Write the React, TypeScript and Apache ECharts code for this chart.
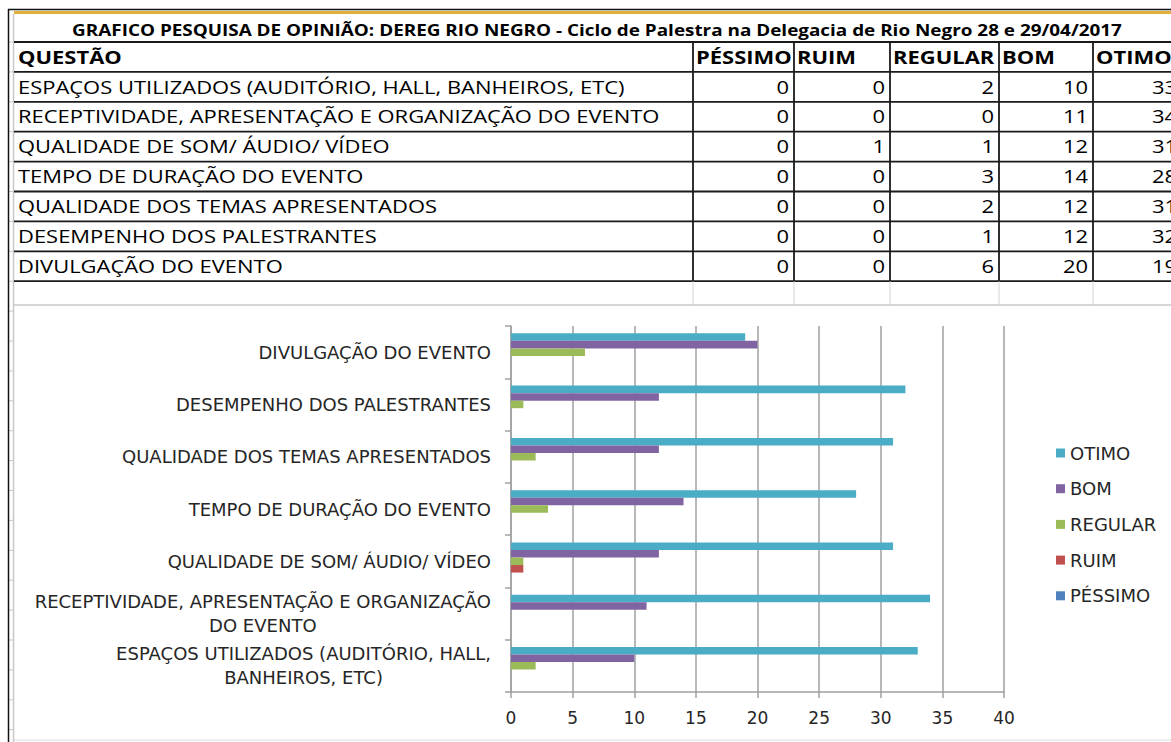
import React, { useEffect, useRef } from "react";
import * as echarts from "echarts";

// ---------- data ----------
const title =
  "GRAFICO PESQUISA DE OPINIÃO: DEREG RIO NEGRO - Ciclo de Palestra na Delegacia de Rio Negro 28 e 29/04/2017";
const questionHeader = "QUESTÃO";
const questions = [
  "ESPAÇOS UTILIZADOS (AUDITÓRIO, HALL, BANHEIROS, ETC)",
  "RECEPTIVIDADE, APRESENTAÇÃO E ORGANIZAÇÃO DO EVENTO",
  "QUALIDADE DE SOM/ ÁUDIO/ VÍDEO",
  "TEMPO DE DURAÇÃO DO EVENTO",
  "QUALIDADE DOS TEMAS APRESENTADOS",
  "DESEMPENHO DOS PALESTRANTES",
  "DIVULGAÇÃO DO EVENTO",
];
const ratingNames = ["PÉSSIMO", "RUIM", "REGULAR", "BOM", "OTIMO"];
const pessimo = [0, 0, 0, 0, 0, 0, 0];
const ruim = [0, 0, 1, 0, 0, 0, 0];
const regular = [2, 0, 1, 3, 2, 1, 6];
const bom = [10, 11, 12, 14, 12, 12, 20];
const otimo = [33, 34, 31, 28, 31, 32, 19];
const legendOrder = ["OTIMO", "BOM", "REGULAR", "RUIM", "PÉSSIMO"];
const xMin = 0;
const xMax = 40;
const xStep = 5;

// ---------- style / layout ----------
const seriesValues = [pessimo, ruim, regular, bom, otimo];
const seriesColors = ["#4F81BD", "#C0504D", "#9BBB59", "#8064A2", "#4BACC6"];
const FONT = "'Open Sans', 'Noto Sans', sans-serif";
const CFONT = "'DejaVu Sans', sans-serif";
const CSIZE = 18;
const TSCALE = 1.22;
const W = 1171;
const H = 742;
const rowTop = 42;
const rowH = 29.9;
const colLines = [693, 794, 890, 999, 1093, 1182];

function wrapLabel(s: string, maxChars: number): string[] {
  const words = s.split(" ");
  const lines: string[] = [];
  let cur = "";
  for (const w of words) {
    const next = cur ? cur + " " + w : w;
    if (next.length > maxChars && cur) {
      lines.push(cur);
      cur = w;
    } else cur = next;
  }
  if (cur) lines.push(cur);
  return lines;
}

function buildGraphic(): any[] {
  const els: any[] = [];
  const line = (x1: number, y1: number, x2: number, y2: number, stroke: string, lw: number) =>
    els.push({
      type: "line",
      silent: true,
      shape: { x1, y1, x2, y2 },
      style: { stroke, lineWidth: lw },
    });
  const text = (
    x: number,
    y: number,
    t: string,
    align: string,
    size: number,
    bold = false
  ) =>
    els.push({
      type: "text",
      silent: true,
      x,
      y,
      scaleX: TSCALE,
      style: {
        text: t,
        fill: "#000",
        font: `${bold ? "bold " : ""}${size}px ${FONT}`,
        textAlign: align,
        textVerticalAlign: "middle",
      },
    });

  // excel gutter marks
  for (let y = rowTop; y < H; y += rowH) line(8, y, 14, y, "#c8c8c8", 1);
  // top frame
  line(8, 9.5, W, 9.5, "#111", 1.5);
  line(14, 12.5, W, 12.5, "#E0B03A", 3);
  line(8.5, 9, 8.5, H, "#111", 1.5);
  line(13.5, 14, 13.5, H, "#c8c8c8", 1.5);

  // title
  text(597, 30, title, "center", 15.5, true);

  // rows
  const nRows = questions.length + 1;
  for (let i = 0; i <= nRows; i++) {
    const y = rowTop + i * rowH;
    line(14, y, W, y, "#1a1a1a", 1.8);
  }
  const tableBottom = rowTop + nRows * rowH;
  for (const x of colLines) line(x, rowTop, x, tableBottom, "#1a1a1a", 1.8);
  // empty row below table
  for (const x of colLines) line(x, tableBottom, x, 305, "#d4d4d4", 1);
  // chart border
  line(14, 305, W, 305, "#c8c8c8", 1.5);
  line(14, 740, W, 740, "#dcdcdc", 1);

  // header texts
  const hy = rowTop + rowH / 2;
  text(18, hy, questionHeader, "left", 18, true);
  ratingNames.forEach((n, j) => text(colLines[j] + 3, hy, n, "left", 18, true));

  // data rows
  questions.forEach((q, i) => {
    const y = rowTop + (i + 1) * rowH + rowH / 2;
    text(18, y, q, "left", 18);
    seriesValues.forEach((vals, j) =>
      text(colLines[j + 1] - 5, y, String(vals[i]), "right", 18)
    );
  });
  return els;
}

export default function App() {
  const ref = useRef<HTMLDivElement>(null);
  useEffect(() => {
    if (!ref.current) return;
    const chart = echarts.init(ref.current, null, { renderer: "svg" });
    // series drawn top-to-bottom inside each band: OTIMO first
    const order = [4, 3, 2, 1, 0];
    const option: any = {
      animation: false,
      backgroundColor: "#ffffff",
      textStyle: { fontFamily: CFONT },
      grid: { left: 511, right: W - 1004, top: 326, bottom: H - 692, containLabel: false },
      legend: {
        orient: "vertical",
        left: 1051,
        top: 439,
        data: legendOrder,
        icon: "rect",
        itemWidth: 9,
        itemHeight: 9,
        itemGap: 17.7,
        textStyle: { fontSize: CSIZE, color: "#262626", fontFamily: CFONT },
      },
      xAxis: {
        type: "value",
        min: xMin,
        max: xMax,
        interval: xStep,
        axisLine: { show: true, lineStyle: { color: "#a0a0a0", width: 1.5 } },
        axisTick: { show: true, length: 6, lineStyle: { color: "#a0a0a0", width: 1.5 } },
        splitLine: { show: true, lineStyle: { color: "#a0a0a0", width: 1.5 } },
        axisLabel: { margin: 17, fontSize: 17, color: "#262626", fontFamily: CFONT },
      },
      yAxis: {
        type: "category",
        data: questions,
        axisLine: { show: true, lineStyle: { color: "#a0a0a0", width: 1.5 } },
        axisTick: { show: true, length: 6, lineStyle: { color: "#a0a0a0", width: 1.5 } },
        splitLine: { show: false },
        axisLabel: {
          margin: 20,
          fontSize: CSIZE,
          color: "#262626",
          fontFamily: CFONT,
          align: "right",
          formatter: (v: string) =>
            wrapLabel(v, 41)
              .map((l) => `{c|${l}}`)
              .join("\n"),
          rich: {
            c: {
              align: "center",
              fontSize: CSIZE,
              lineHeight: 24,
              color: "#262626",
              fontFamily: CFONT,
            },
          },
        },
      },
      series: order.map((j) => ({
        name: ratingNames[j],
        type: "bar",
        data: seriesValues[j],
        barGap: "0%",
        barCategoryGap: "28%",
        itemStyle: { color: seriesColors[j] },
      })),
      graphic: buildGraphic(),
    };
    chart.setOption(option);
    return () => chart.dispose();
  }, []);
  return (
    <div
      ref={ref}
      style={{ position: "fixed", left: 0, top: 0, width: W, height: H, background: "#fff" }}
    />
  );
}
